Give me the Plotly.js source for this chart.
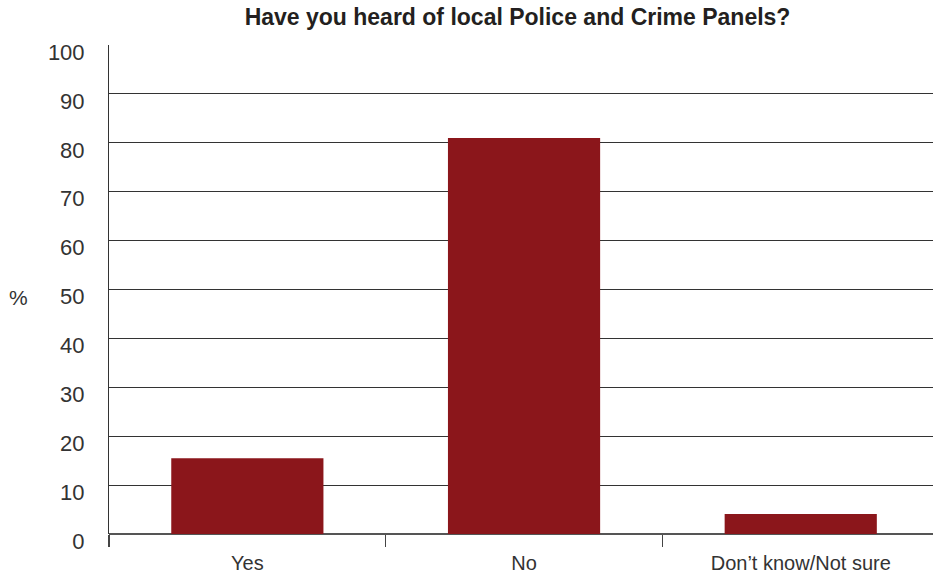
<!DOCTYPE html>
<html>
<head>
<meta charset="utf-8">
<script src="https://cdn.plot.ly/plotly-3.0.1.min.js"></script>
<style>html,body{margin:0;padding:0;background:#fff;}#chart{width:933px;height:577px;}</style>
</head>
<body>
<div id="chart"></div>
<script>
const categories = ["Yes", "No", "Don’t know/Not sure"];
const percentValues = [15.5, 81, 4.1];
const yTickValues = [0, 10, 20, 30, 40, 50, 60, 70, 80, 90, 100];

const FONT = "'Liberation Sans', Arial, Helvetica, sans-serif";

const trace = {
  type: "bar",
  x: categories,
  y: percentValues,
  marker: {color: "#8B161B"},
  width: 0.55,
  hoverinfo: "x+y"
};

const layout = {
  width: 933,
  height: 577,
  margin: {l: 109, r: 0, t: 45, b: 43, pad: 0},
  paper_bgcolor: "#ffffff",
  plot_bgcolor: "#ffffff",
  showlegend: false,
  title: {
    text: "<b>Have you heard of local Police and Crime Panels?</b>",
    font: {family: FONT, size: 23, color: "#231f20"},
    x: 0.5547, xanchor: "center",
    y: 0.97, yanchor: "middle"
  },
  xaxis: {
    type: "category",
    range: [-0.5, 2.478],
    showgrid: false,
    zeroline: false,
    showline: false,
    ticks: "outside",
    tickson: "boundaries",
    ticklen: 12,
    tickcolor: "#444",
    tickwidth: 1.5,
    ticklabelstandoff: 15,
    tickfont: {family: FONT, size: 20, color: "#333"},
    fixedrange: true
  },
  yaxis: {
    range: [0, 100],
    tickvals: yTickValues,
    ticktext: yTickValues.map(String),
    showgrid: true,
    gridcolor: "#333",
    gridwidth: 1,
    zeroline: true,
    zerolinecolor: "#555",
    zerolinewidth: 1.5,
    showline: true,
    linecolor: "#333",
    linewidth: 1,
    ticks: "",
    ticklabelstandoff: 19,
    ticklabelshift: 7,
    tickfont: {family: FONT, size: 22, color: "#333"},
    fixedrange: true
  },
  annotations: [{
    text: "%",
    xref: "paper", yref: "paper",
    x: -0.11, y: 0.483,
    xanchor: "center", yanchor: "middle",
    showarrow: false,
    font: {family: FONT, size: 21, color: "#333"}
  }]
};

Plotly.newPlot("chart", [trace], layout, {displayModeBar: false, staticPlot: true});
</script>
</body>
</html>
